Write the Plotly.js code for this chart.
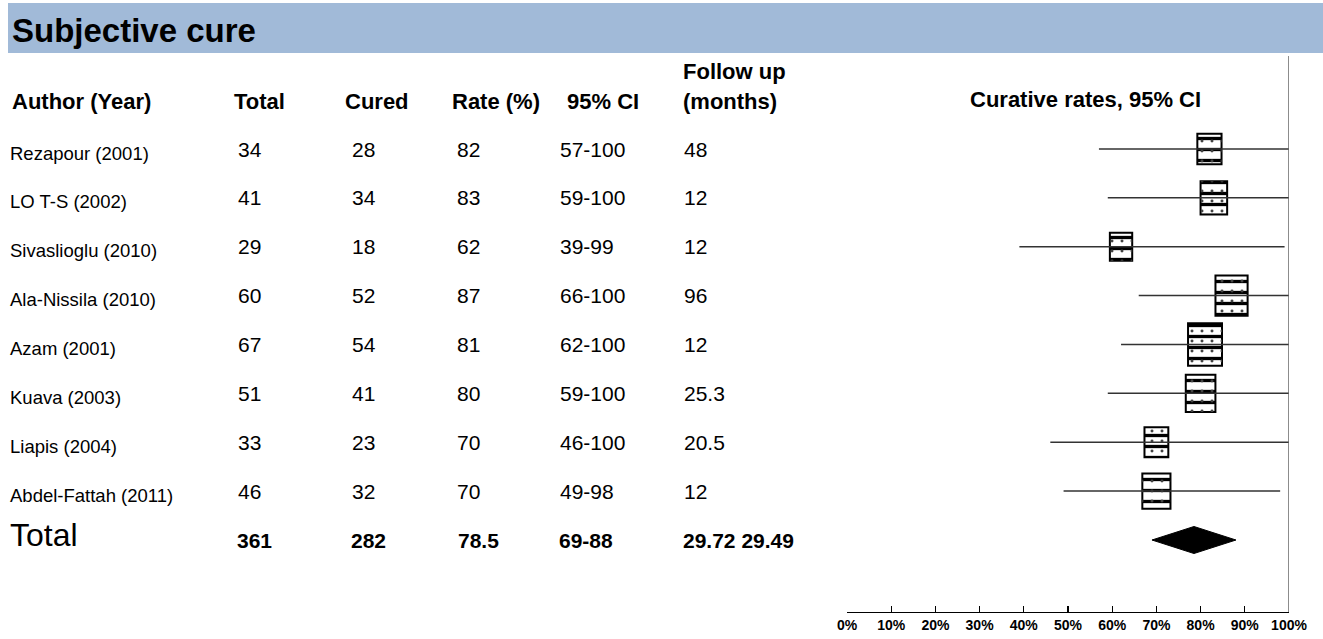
<!DOCTYPE html>
<html>
<head>
<meta charset="utf-8">
<script src="https://cdn.plot.ly/plotly-3.0.1.min.js"></script>
<style>
  html, body { margin: 0; padding: 0; background: #fff; }
  #chart { width: 1323px; height: 639px; }
</style>
</head>
<body>
<div id="chart"></div>
<script>
// ---- Study data ----
const studies   = ['Rezapour (2001)', 'LO T-S (2002)', 'Sivaslioglu (2010)', 'Ala-Nissila (2010)',
                   'Azam (2001)', 'Kuava (2003)', 'Liapis (2004)', 'Abdel-Fattah (2011)'];
const totals    = [34, 41, 29, 60, 67, 51, 33, 46];
const cured     = [28, 34, 18, 52, 54, 41, 23, 32];
const rates     = [82, 83, 62, 87, 81, 80, 70, 70];
const ciLow     = [57, 59, 39, 66, 62, 59, 46, 49];
const ciHigh    = [100, 100, 99, 100, 100, 100, 100, 98];
const followUp  = ['48', '12', '12', '96', '12', '25.3', '20.5', '12'];

// ---- Pooled estimate ----
const pooledTotal  = 361;
const pooledCured  = 282;
const pooledRate   = 78.5;
const pooledLow    = 69;
const pooledHigh   = 88;
const pooledFollow = '29.72 29.49';

// ---- Axis ticks ----
const tickVals   = [0, 10, 20, 30, 40, 50, 60, 70, 80, 90, 100];
const tickLabels = ['0%', '10%', '20%', '30%', '40%', '50%', '60%', '70%', '80%', '90%', '100%'];

// ---- Geometry helpers (page is 1323 x 639 px) ----
const W = 1323, H = 639;
const px = v => v / W;           // horizontal pixel -> paper
const py = v => 1 - v / H;       // vertical pixel -> paper
const axisLeft = 847, axisRight = 1289, axisBottom = 612, plotTop = 56;
const rowTop = 149, rowStep = 48.875;          // pixel centre of first row and row spacing
const pxPerPct = (axisRight - axisLeft) / 100;
const yBottom = (axisBottom - rowTop) / rowStep;
const yTop = (plotTop - rowTop) / rowStep;
const totalRow = studies.length;
const rows = studies.map((_, i) => i);

const FONT = 'Liberation Sans, Arial, Helvetica, sans-serif';

// box size grows with study size
const boxW = totals.map(n => 4.15 * Math.sqrt(n) / pxPerPct);
const boxH = totals.map(n => 5.2 * Math.sqrt(n) / rowStep);
const boxBase = rates.map((r, i) => r - boxW[i] / 2);

// confidence-interval segments
const ciX = [], ciY = [];
rows.forEach(i => { ciX.push(ciLow[i], ciHigh[i], null); ciY.push(i, i, null); });

const dH = 13.5 / rowStep;   // half-height of the pooled diamond

const traces = [
  {
    type: 'bar', orientation: 'h',
    y: rows, x: boxW, base: boxBase, width: boxH,
    marker: {
      color: '#fff',
      line: { color: '#000', width: 2 },
      pattern: { shape: '-', fgcolor: '#000', bgcolor: '#fff', size: 11, solidity: 0.3 }
    },
    hoverinfo: 'skip'
  },
  {
    type: 'bar', orientation: 'h',
    y: rows, x: boxW, base: boxBase, width: boxH,
    marker: {
      color: 'rgba(0,0,0,0)',
      line: { width: 0 },
      pattern: { shape: '.', fgcolor: '#444', bgcolor: 'rgba(0,0,0,0)', size: 10, solidity: 0.07 }
    },
    hoverinfo: 'skip'
  },
  {
    type: 'scatter', mode: 'lines', x: ciX, y: ciY,
    line: { color: '#333', width: 1.5 }, hoverinfo: 'skip', cliponaxis: false
  },
  {
    type: 'scatter', mode: 'lines',
    x: [pooledLow, pooledRate, pooledHigh, pooledRate, pooledLow],
    y: [totalRow, totalRow - dH, totalRow, totalRow + dH, totalRow],
    fill: 'toself', fillcolor: '#000', line: { color: '#000', width: 1 },
    hoverinfo: 'skip'
  }
];

const ann = [];
function text(str, x, y, size, opts = {}) {
  ann.push(Object.assign({
    text: str, x: px(x), xref: 'paper', y: y, yref: 'paper',
    xanchor: 'left', yanchor: 'middle', showarrow: false,
    font: { family: FONT, size: size, color: '#000' }
  }, opts));
}

// title
text('<b>Subjective cure</b>', 10, py(30), 33);

// column headers
const headerY = py(101);
text('<b>Author (Year)</b>', 10, headerY, 22);
text('<b>Total</b>', 232, headerY, 22);
text('<b>Cured</b>', 343, headerY, 22);
text('<b>Rate (%)</b>', 450, headerY, 22);
text('<b>95% CI</b>', 565, headerY, 22);
text('<b>Follow up</b>', 681, py(71), 22);
text('<b>(months)</b>', 681, headerY, 22);
text('<b>Curative rates, 95% CI</b>', 968, py(99), 22);

// study rows
rows.forEach(i => {
  const rowOpts = { yref: 'y' };
  text(studies[i], 8, i, 18.5, Object.assign({ yshift: -4 }, rowOpts));
  text(String(totals[i]), 236, i, 21, rowOpts);
  text(String(cured[i]), 350, i, 21, rowOpts);
  text(String(rates[i]), 455, i, 21, rowOpts);
  text(ciLow[i] + '-' + ciHigh[i], 558, i, 21, rowOpts);
  text(followUp[i], 682, i, 21, rowOpts);
});

// pooled row
text('Total', 8, totalRow, 32, { yref: 'y', yshift: 5 });
text('<b>' + pooledTotal + '</b>', 235, totalRow, 21, { yref: 'y' });
text('<b>' + pooledCured + '</b>', 349, totalRow, 21, { yref: 'y' });
text('<b>' + pooledRate + '</b>', 456, totalRow, 21, { yref: 'y' });
text('<b>' + pooledLow + '-' + pooledHigh + '</b>', 557, totalRow, 21, { yref: 'y' });
text('<b>' + pooledFollow + '</b>', 681, totalRow, 21, { yref: 'y' });

const layout = {
  width: W, height: H,
  margin: { l: 0, r: 0, t: 0, b: 0 },
  paper_bgcolor: '#fff', plot_bgcolor: 'rgba(0,0,0,0)',
  showlegend: false,
  barmode: 'overlay',
  xaxis: {
    domain: [px(axisLeft), px(axisRight)],
    range: [0, 100],
    showgrid: false, zeroline: false,
    showline: true, linecolor: '#000', linewidth: 1.3,
    ticks: 'inside', ticklen: 6, tickwidth: 1.2, tickcolor: '#000',
    tickmode: 'array', tickvals: tickVals, ticktext: tickLabels,
    tickfont: { family: FONT, size: 14, color: '#000', weight: 'bold' },
    fixedrange: true
  },
  yaxis: {
    domain: [py(axisBottom), py(plotTop)],
    range: [yBottom, yTop],
    visible: false, fixedrange: true
  },
  shapes: [
    // header band
    { type: 'rect', xref: 'paper', yref: 'paper', x0: px(8), x1: 1, y0: py(53), y1: py(3),
      fillcolor: '#a1bad8', line: { width: 0 }, layer: 'below' },
    // 100% reference line
    { type: 'line', xref: 'x', yref: 'paper', x0: 100, x1: 100, y0: py(axisBottom), y1: py(plotTop),
      line: { color: '#666', width: 1.5 } }
  ],
  annotations: ann
};

Plotly.newPlot('chart', traces, layout, { displayModeBar: false, staticPlot: true });
</script>
</body>
</html>
